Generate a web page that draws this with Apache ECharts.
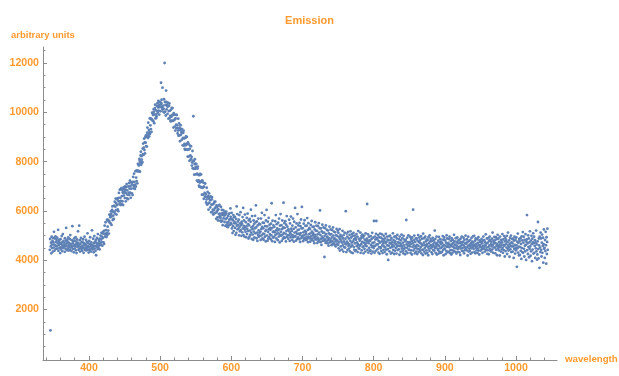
<!DOCTYPE html>
<html>
<head>
<meta charset="utf-8">
<script src="https://cdn.jsdelivr.net/npm/echarts@6/dist/echarts.min.js"></script>
<style>
  html, body { margin: 0; padding: 0; background: #ffffff; }
  #chart { width: 619px; height: 376px; }
</style>
</head>
<body>
<div id="chart"></div>
<script>
// Emission spectrum: each row holds 12 consecutive detector readings,
// starting at the wavelength in rowStart and spaced sampleStep nm apart.
const sampleStep = 5 / 12;

const rowStart = [
  345, 350, 355, 360, 365, 370, 375, 380, 385, 390, 395, 400, 405, 410,
  415, 420, 425, 430, 435, 440, 445, 450, 455, 460, 465, 470, 475, 480,
  485, 490, 495, 500, 505, 510, 515, 520, 525, 530, 535, 540, 545, 550,
  555, 560, 565, 570, 575, 580, 585, 590, 595, 600, 605, 610, 615, 620,
  625, 630, 635, 640, 645, 650, 655, 660, 665, 670, 675, 680, 685, 690,
  695, 700, 705, 710, 715, 720, 725, 730, 735, 740, 745, 750, 755, 760,
  765, 770, 775, 780, 785, 790, 795, 800, 805, 810, 815, 820, 825, 830,
  835, 840, 845, 850, 855, 860, 865, 870, 875, 880, 885, 890, 895, 900,
  905, 910, 915, 920, 925, 930, 935, 940, 945, 950, 955, 960, 965, 970,
  975, 980, 985, 990, 995, 1000, 1005, 1010, 1015, 1020, 1025, 1030, 1035, 1040
];

const counts = [
  [4420, 4860, 1150, 4560, 4710, 4280, 4950, 4630, 4490, 4780, 4350, 4900],
  [4720, 4510, 5150, 4630, 4390, 4880, 4600, 4970, 4450, 4740, 4560, 4820],
  [4580, 4910, 4470, 4690, 5230, 4380, 4760, 4620, 4830, 4510, 4700, 4290],
  [4850, 4440, 4660, 4530, 4980, 4720, 4370, 4610, 5060, 4490, 4780, 4590],
  [4520, 4700, 4340, 4890, 4610, 4460, 4790, 5310, 4570, 4680, 4400, 4830],
  [4740, 4480, 4920, 4600, 4390, 4700, 4550, 4860, 4430, 5020, 4650, 4510],
  [4630, 4370, 4810, 4540, 5380, 4690, 4450, 4760, 4590, 4320, 4880, 4620],
  [4470, 4780, 4560, 4930, 4400, 4650, 4290, 4720, 4840, 4530, 4610, 5170],
  [4700, 4420, 4590, 5400, 4480, 4810, 4350, 4660, 4540, 4900, 4460, 4730],
  [4560, 4380, 4740, 4480, 4850, 4600, 4300, 4690, 4510, 4950, 4420, 4630],
  [4650, 4470, 4820, 4390, 4570, 4740, 4500, 5090, 4430, 4680, 4560, 4310],
  [4520, 4780, 4400, 4660, 4930, 4460, 4580, 4350, 4720, 4620, 5210, 4490],
  [4610, 4430, 4870, 4550, 4320, 4690, 4980, 4470, 4740, 4580, 4380, 4820],
  [4200, 4710, 4540, 4900, 4620, 4450, 5060, 4680, 4500, 4830, 4590, 4760],
  [4440, 4870, 4670, 5000, 4620, 4840, 5110, 4730, 4960, 4590, 5090, 4900],
  [5160, 4720, 5080, 4660, 5200, 5400, 5050, 4950, 5540, 5070, 5220, 4940],
  [5110, 5640, 5020, 5360, 5630, 5200, 5580, 5080, 5590, 5850, 5520, 5810],
  [5740, 5490, 5980, 5880, 5430, 5780, 6040, 6180, 5630, 5970, 5810, 5660],
  [5680, 6210, 5960, 6370, 5890, 6170, 6500, 6030, 6310, 5850, 6480, 6240],
  [6510, 6060, 6420, 5990, 6530, 6730, 6380, 6270, 6860, 6380, 6530, 6240],
  [6410, 6920, 6280, 6600, 6850, 6390, 6760, 6240, 6720, 6960, 6620, 6880],
  [6790, 6520, 6990, 6860, 6390, 6720, 6970, 7090, 6510, 6830, 6650, 6480],
  [6480, 6990, 6740, 7130, 6640, 6900, 7230, 6740, 7010, 6530, 7160, 6900],
  [7160, 6710, 7070, 6640, 7180, 7380, 7030, 6920, 7510, 7030, 7180, 6890],
  [7060, 7610, 6990, 7350, 7630, 7210, 7610, 7120, 7640, 7910, 7600, 7900],
  [7840, 7610, 8110, 8030, 7590, 7960, 8250, 8400, 7870, 8220, 8080, 7950],
  [7980, 8530, 8300, 8730, 8270, 8570, 8930, 8470, 8780, 8330, 8990, 8770],
  [9060, 8630, 9010, 8610, 9170, 9380, 9050, 8960, 9580, 9120, 9290, 9020],
  [9210, 9750, 9130, 9470, 9750, 9320, 9710, 9210, 9720, 9990, 9670, 9950],
  [9890, 9640, 10120, 10020, 9560, 9910, 10170, 10310, 9750, 10090, 9920, 9770],
  [9840, 10260, 10050, 10370, 9980, 10200, 10460, 10070, 10290, 9910, 10410, 10210],
  [10420, 10040, 10310, 11200, 10370, 10510, 10210, 10110, 11000, 10160, 10270, 10020],
  [10140, 10530, 9990, 12000, 10420, 10030, 10300, 9870, 10880, 10420, 10120, 10310],
  [10240, 9940, 10390, 10240, 9740, 10050, 10270, 10360, 9770, 10060, 9850, 9660],
  [9630, 10110, 9820, 10180, 9660, 9890, 10170, 9650, 9890, 9380, 9970, 9680],
  [9910, 9420, 9730, 9260, 9750, 9900, 9500, 9350, 9890, 9370, 9470, 9140],
  [9260, 9740, 9050, 9340, 9550, 9060, 9380, 8830, 9270, 9480, 9090, 9320],
  [9190, 8890, 9320, 9170, 8660, 8960, 9170, 9260, 8650, 8940, 8720, 8520],
  [8480, 8960, 8660, 9020, 8490, 8720, 9000, 8480, 8710, 8200, 8780, 8490],
  [8710, 8210, 8510, 8030, 8520, 8650, 8250, 8090, 8620, 8090, 8190, 7840],
  [7960, 8430, 7730, 8010, 9840, 7710, 8030, 7470, 7900, 8100, 7710, 7920],
  [7790, 7480, 7900, 7740, 7230, 7510, 7720, 7800, 7180, 7460, 7240, 7020],
  [6980, 7450, 7150, 7500, 6970, 7200, 7480, 6950, 7180, 6660, 7240, 6940],
  [7160, 6660, 6970, 6490, 6980, 7130, 6730, 6570, 7110, 6580, 6680, 6340],
  [6460, 6940, 6260, 6550, 6770, 6280, 6600, 6050, 6500, 6710, 6330, 6560],
  [6440, 6140, 6590, 6440, 5940, 6250, 6470, 6560, 5970, 6260, 6050, 5860],
  [5860, 6300, 6040, 6370, 5910, 6120, 6380, 5920, 6140, 5680, 6220, 5960],
  [6170, 5740, 6030, 5610, 6070, 6210, 5870, 5740, 6240, 5780, 5890, 5600],
  [5720, 6160, 5560, 5830, 6040, 5600, 5910, 5420, 5830, 6030, 5700, 5910],
  [5810, 5550, 5960, 5830, 5390, 5670, 5880, 5970, 5440, 5710, 5530, 5360],
  [5340, 5790, 5530, 5870, 5410, 5630, 5900, 5440, 5670, 6100, 5760, 5510],
  [5460, 5920, 5290, 5680, 5100, 5620, 5380, 5830, 5180, 5750, 5500, 5560],
  [5760, 5310, 5030, 5490, 5680, 5110, 6180, 5400, 5870, 5250, 5570, 5430],
  [5280, 5640, 5010, 5830, 5350, 5170, 5490, 5950, 5220, 5420, 4990, 5560],
  [5480, 5130, 5750, 5290, 6120, 5020, 5390, 5610, 4960, 5240, 5850, 5330],
  [5150, 5540, 4930, 5380, 5720, 5060, 5270, 5890, 5180, 5460, 4880, 5620],
  [5410, 4950, 5680, 5200, 5030, 5560, 6050, 5120, 5330, 4860, 5790, 5260],
  [5040, 5380, 4830, 5610, 5160, 5470, 4920, 5290, 5800, 5090, 5540, 6220],
  [5330, 4890, 5570, 5120, 4780, 5410, 5020, 5690, 5210, 4950, 5480, 5100],
  [4980, 5450, 5160, 4820, 5690, 5270, 5010, 5920, 5350, 4880, 5520, 5080],
  [5290, 4830, 5510, 5060, 5830, 4950, 5380, 5180, 4760, 5610, 5230, 6040],
  [5000, 5370, 4790, 5560, 5150, 4880, 5720, 5260, 4940, 5440, 5060, 5310],
  [5230, 4850, 5480, 5010, 6310, 5300, 4770, 5600, 5140, 4920, 5410, 5170],
  [4940, 5350, 5130, 4740, 5580, 5020, 5830, 5210, 4880, 5460, 5080, 5290],
  [5200, 4810, 5520, 5090, 4960, 5690, 5250, 4720, 5400, 5030, 5870, 5150],
  [4990, 5420, 4780, 5260, 5610, 5040, 4870, 5330, 6330, 5110, 4930, 5500],
  [5310, 4900, 5580, 5070, 4760, 5440, 5180, 5790, 4950, 5360, 5020, 5230],
  [4870, 5250, 5010, 5640, 5160, 4780, 5490, 5090, 4930, 5770, 5280, 5030],
  [5180, 4820, 5400, 5010, 5690, 4930, 5270, 4750, 5560, 5120, 4980, 6120],
  [4960, 5330, 4790, 5150, 5490, 5060, 4860, 5870, 5220, 4920, 5410, 5080],
  [5240, 4850, 5510, 5020, 4740, 5380, 5100, 5650, 4900, 5290, 6160, 4990],
  [4930, 5300, 4770, 5130, 5480, 5010, 4850, 5620, 5190, 4900, 5390, 5060],
  [5150, 4810, 5400, 4960, 5710, 4880, 5230, 4730, 5500, 5050, 4920, 5310],
  [4890, 5260, 4750, 5090, 5430, 4970, 4820, 5590, 5160, 4870, 5350, 5020],
  [5100, 4780, 5360, 4920, 4690, 5250, 5030, 5540, 4850, 5190, 4960, 5400],
  [4840, 5190, 4700, 5050, 5380, 4900, 4760, 5500, 5120, 4820, 5300, 6020],
  [5030, 4730, 5290, 4870, 4620, 5170, 4960, 5440, 4780, 5110, 4890, 5330],
  [4790, 5120, 4130, 4990, 5300, 4840, 4700, 5410, 5060, 4760, 5230, 4920],
  [4950, 4680, 5200, 4810, 4590, 5090, 4880, 5360, 4720, 5040, 4830, 5250],
  [4740, 5060, 4610, 4920, 5220, 4780, 4650, 5330, 5000, 4700, 5160, 4860],
  [4890, 4620, 5130, 4760, 4560, 5010, 4830, 5270, 4670, 4990, 4780, 5190],
  [4620, 5110, 4480, 4930, 4720, 5260, 4390, 4850, 5030, 4560, 4790, 4980],
  [4950, 4430, 4710, 5190, 4600, 4880, 4350, 5020, 4760, 4520, 5120, 4680],
  [4510, 4870, 5990, 4640, 4330, 5080, 4750, 4960, 4420, 4690, 5150, 4580],
  [4880, 4470, 4640, 5030, 4360, 4790, 5170, 4550, 4920, 4310, 4710, 5060],
  [4600, 4980, 4290, 4760, 5110, 4530, 4850, 4420, 5000, 4680, 4370, 4900],
  [4830, 4410, 5060, 4570, 4720, 4960, 4330, 4650, 5180, 4490, 4870, 4600],
  [4460, 4790, 4590, 5120, 4300, 4880, 4650, 4980, 4400, 4740, 5040, 4530],
  [4920, 4550, 4280, 4710, 5000, 4460, 4830, 4610, 4350, 5090, 4680, 4790],
  [4570, 4870, 6280, 4420, 4760, 5050, 4310, 4690, 4950, 4500, 4810, 4380],
  [4780, 4400, 4980, 4620, 4270, 4860, 4530, 5110, 4700, 4350, 4910, 4580],
  [4490, 5590, 4720, 4300, 4960, 4580, 4840, 4380, 5070, 5590, 4640, 4900],
  [4850, 4440, 4640, 5020, 4310, 4770, 4530, 4930, 4260, 4710, 5080, 4480],
  [4520, 4910, 4370, 4760, 5050, 4600, 4290, 4850, 4680, 4420, 4990, 4560],
  [4770, 4330, 4880, 4510, 4690, 5070, 4420, 4740, 4240, 4960, 4600, 4830],
  [4450, 4010, 4800, 4590, 4970, 4360, 4700, 5000, 4500, 4820, 4270, 4660],
  [4900, 4530, 4310, 4730, 4610, 5090, 4420, 4820, 4560, 4250, 4950, 4680],
  [4380, 4760, 4970, 4490, 4640, 4270, 4880, 4560, 5030, 4410, 4720, 4590],
  [4720, 4440, 4850, 4220, 4960, 4570, 4680, 4340, 4800, 4620, 5040, 4470],
  [4550, 4890, 4380, 4710, 4280, 4990, 4600, 4450, 4830, 4510, 4240, 4760],
  [4820, 4360, 5630, 4640, 4500, 4910, 4290, 4730, 4580, 5010, 4420, 4680],
  [4430, 4730, 4560, 4950, 4300, 4650, 4860, 4400, 4770, 4230, 4920, 4540],
  [4690, 6050, 4390, 4810, 4600, 5000, 4470, 4280, 4740, 4570, 4880, 4350],
  [4500, 4880, 4620, 4250, 4790, 4440, 5020, 4580, 4330, 4730, 4920, 4460],
  [4800, 4370, 4690, 4530, 4980, 4280, 4640, 4870, 4420, 4600, 4210, 5080],
  [4430, 4710, 4890, 4340, 4620, 4500, 4950, 4270, 4760, 4580, 4400, 4830],
  [4650, 4300, 4820, 4550, 4200, 4930, 4470, 4700, 4380, 5010, 4590, 4760],
  [4860, 4480, 4610, 4320, 4770, 4530, 4250, 4900, 4640, 4410, 4810, 4560],
  [4390, 4720, 5200, 4490, 4860, 4300, 4650, 4560, 4960, 4230, 4700, 4470],
  [4620, 4410, 4790, 4270, 4940, 4580, 4350, 4720, 4480, 4850, 4300, 4660],
  [4750, 4510, 4330, 4690, 4560, 4980, 4410, 4830, 4200, 4610, 4920, 4470],
  [4460, 4800, 4590, 4250, 4710, 4380, 5010, 4540, 4880, 4320, 4650, 4560],
  [4700, 4350, 4860, 4520, 4960, 4290, 4630, 4410, 4780, 4570, 4230, 4890],
  [4410, 4660, 4300, 4820, 4550, 4700, 4380, 5030, 4490, 4760, 4610, 4340],
  [4630, 4890, 4480, 4270, 4740, 4570, 4920, 4340, 4680, 4450, 4810, 4520],
  [4800, 4320, 4690, 4550, 4210, 4870, 4470, 4730, 4600, 4960, 4380, 4640],
  [4490, 4740, 4360, 4910, 4600, 4280, 4820, 4530, 4420, 4690, 5000, 4450],
  [4670, 4400, 4850, 4520, 4730, 4190, 4590, 4950, 4350, 4780, 4470, 4620],
  [4380, 4810, 4560, 4260, 4690, 4480, 4900, 4620, 4310, 4750, 4540, 4970],
  [4720, 4450, 4630, 4990, 4330, 4570, 4790, 4280, 4880, 4500, 4660, 4400],
  [4560, 4850, 4300, 4700, 4470, 4930, 4390, 4610, 4230, 4800, 4530, 4740],
  [4620, 4390, 4750, 4520, 4860, 4440, 4690, 4300, 4790, 4580, 4960, 4480],
  [4470, 4810, 4580, 4350, 4720, 4610, 5050, 4420, 4680, 4510, 4880, 4260],
  [4700, 4400, 4890, 4530, 4240, 4770, 4600, 4950, 4460, 4810, 4380, 4640],
  [4350, 4740, 4560, 4870, 4430, 5120, 4620, 4300, 4780, 4510, 4690, 4940],
  [4800, 4510, 4280, 4690, 4930, 4420, 4580, 4850, 4200, 4660, 5030, 4480],
  [4560, 4880, 4400, 4740, 4610, 4190, 4960, 4520, 4700, 4350, 4820, 4600],
  [4430, 4720, 5060, 4500, 4300, 4840, 4620, 4410, 4980, 4580, 4150, 4760],
  [4900, 4370, 4650, 4820, 4510, 4990, 4250, 4730, 4460, 5120, 4600, 4390],
  [4520, 4800, 4140, 4670, 4910, 4440, 4580, 5000, 4330, 4720, 4560, 4860],
  [4680, 4350, 4870, 4560, 4090, 4790, 4460, 4950, 4620, 4270, 4830, 4500],
  [4400, 4920, 4600, 3730, 4750, 4480, 5080, 4310, 4700, 4550, 4200, 4860],
  [4770, 4210, 4530, 4890, 4380, 4660, 4050, 4970, 4490, 4800, 4320, 5140],
  [4300, 4710, 4950, 4460, 4150, 4820, 4590, 4360, 5060, 4620, 4010, 4750],
  [4840, 5830, 4410, 4680, 4250, 5010, 4540, 4880, 4120, 4720, 4460, 5170],
  [4560, 4180, 4790, 4360, 4990, 4650, 3960, 4870, 4430, 4720, 5090, 4270],
  [4690, 4950, 4300, 4580, 4810, 4090, 4720, 4480, 5200, 4360, 4640, 4020],
  [4230, 4760, 5550, 4450, 4070, 4880, 4600, 3690, 4960, 4510, 4330, 5120],
  [4880, 4420, 4150, 4710, 5040, 4300, 4580, 4910, 3900, 4650, 5250, 4460],
  [4500, 4090, 4820, 4370, 5150, 4610, 3860, 4930, 4250, 4740, 5280, 4420]
];

// Axis ticks
const xTickValues = [400, 500, 600, 700, 800, 900, 1000];
const xMinorTickValues = [
  340, 360, 380, 420, 440, 460, 480, 520, 540, 560, 580, 620, 640, 660, 680,
  720, 740, 760, 780, 820, 840, 860, 880, 920, 940, 960, 980, 1020, 1040
];
const yTickValues = [2000, 4000, 6000, 8000, 10000, 12000];
const yMinorTickValues = [
  500, 1000, 1500, 2500, 3000, 3500, 4500, 5000, 5500, 6500, 7000, 7500,
  8500, 9000, 9500, 10500, 11000, 11500, 12500
];

// Text
const titleText = 'Emission';
const yAxisName = 'arbitrary units';
const xAxisName = 'wavelength';

const ORANGE = '#FF9A2E';
const AXIS_GRAY = '#8c8c8c';
const POINT_BLUE = '#5E81B5';
const FONT = '"Liberation Sans", Arial, sans-serif';

const points = [];
rowStart.forEach((w, r) => {
  counts[r].forEach((v, i) => points.push([w + i * sampleStep, v]));
});

const X_MIN = 335.4, X_MAX = 1057.6;
const Y_MIN = -50, Y_MAX = 12650;

const plainNumber = (v) => String(Math.round(v));

const chart = echarts.init(document.getElementById('chart'), null, { renderer: 'canvas' });

chart.setOption({
  animation: false,
  backgroundColor: '#ffffff',
  grid: { left: 43, right: 62, top: 47, bottom: 16, containLabel: false },
  xAxis: [
    {
      type: 'value', min: X_MIN, max: X_MAX, position: 'bottom',
      axisLine: { show: true, onZero: false, lineStyle: { color: AXIS_GRAY, width: 1 } },
      axisTick: { show: true, inside: true, length: 4, customValues: xTickValues,
                  lineStyle: { color: AXIS_GRAY } },
      axisLabel: { customValues: xTickValues, formatter: plainNumber, color: ORANGE,
                   fontWeight: 'bold', fontSize: 10.6, fontFamily: FONT, margin: 3 },
      splitLine: { show: false }
    },
    {
      type: 'value', min: X_MIN, max: X_MAX, position: 'bottom', offset: 0,
      axisLine: { show: false, onZero: false },
      axisTick: { show: true, inside: true, length: 2.5, customValues: xMinorTickValues,
                  lineStyle: { color: AXIS_GRAY } },
      axisLabel: { show: false },
      splitLine: { show: false }
    }
  ],
  yAxis: [
    {
      type: 'value', min: Y_MIN, max: Y_MAX, position: 'left',
      axisLine: { show: true, onZero: false, lineStyle: { color: AXIS_GRAY, width: 1 } },
      axisTick: { show: true, inside: true, length: 4, customValues: yTickValues,
                  lineStyle: { color: AXIS_GRAY } },
      axisLabel: { customValues: yTickValues, formatter: plainNumber, color: ORANGE,
                   fontWeight: 'bold', fontSize: 10.6, fontFamily: FONT, margin: 4 },
      splitLine: { show: false }
    },
    {
      type: 'value', min: Y_MIN, max: Y_MAX, position: 'left', offset: 0,
      axisLine: { show: false, onZero: false },
      axisTick: { show: true, inside: true, length: 2.5, customValues: yMinorTickValues,
                  lineStyle: { color: AXIS_GRAY } },
      axisLabel: { show: false },
      splitLine: { show: false }
    }
  ],
  graphic: [
    { type: 'text', left: 'center', top: 15,
      style: { text: titleText, fill: ORANGE, font: 'bold 11px ' + FONT } },
    { type: 'text', left: 11, top: 30,
      style: { text: yAxisName, fill: ORANGE, font: 'bold 9.5px ' + FONT } },
    { type: 'text', left: 565, top: 354,
      style: { text: xAxisName, fill: ORANGE, font: 'bold 9.7px ' + FONT } }
  ],
  series: [
    {
      type: 'scatter',
      xAxisIndex: 0, yAxisIndex: 0,
      data: points,
      symbol: 'circle',
      symbolSize: 2.8,
      itemStyle: { color: POINT_BLUE, opacity: 1 },
      emphasis: { disabled: true },
      silent: true
    }
  ]
});
</script>
</body>
</html>
